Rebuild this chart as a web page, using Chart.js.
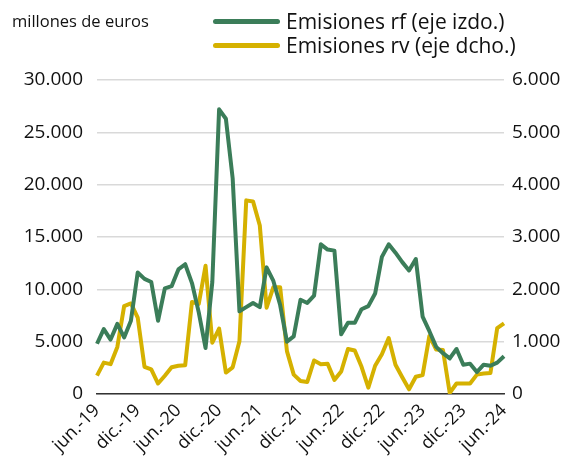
<!DOCTYPE html>
<html><head><meta charset="utf-8">
<script src="https://cdn.jsdelivr.net/npm/chart.js@4"></script>
<style>
html,body{margin:0;padding:0;background:#fff;}
#wrap{position:relative;width:587px;height:472px;font-family:"Open Sans",sans-serif;color:#111;}
canvas{position:absolute;left:0;top:0;}
.unit{position:absolute;left:12px;top:9px;font-size:16.5px;}
.leg{position:absolute;left:213px;font-size:21px;display:flex;align-items:center;white-space:nowrap;}
.leg span.l{display:inline-block;width:67px;height:5px;border-radius:2.5px;margin-right:6px;}
</style></head>
<body><div id="wrap">
<canvas id="c" width="587" height="472"></canvas>
<div class="unit">millones de euros</div>
<div class="leg" style="top:7px"><span class="l" style="background:#3b7d59"></span>Emisiones rf (eje izdo.)</div>
<div class="leg" style="top:31px"><span class="l" style="background:#d5b100"></span>Emisiones rv (eje dcho.)</div>
</div>
<script>
const monthNames = ["ene.","feb.","mar.","abr.","may.","jun.","jul.","ago.","sep.","oct.","nov.","dic."];
const labels = [];
for (let i = 0; i < 61; i++) { const k = 5 + i; labels.push(monthNames[k % 12] + "-" + (19 + Math.floor(k / 12))); }
const tickLabels = ["jun.-19","dic.-19","jun.-20","dic.-20","jun.-21","dic.-21","jun.-22","dic.-22","jun.-23","dic.-23","jun.-24"];
const rfValues = [4800,6200,5200,6700,5400,7000,11600,11000,10700,7000,10100,10300,11900,12400,10600,7800,4400,10700,27200,26300,20600,7900,8300,8700,8300,12100,10800,8500,5000,5500,9000,8700,9400,14300,13800,13700,5700,6800,6800,8100,8400,9600,13100,14300,13500,12600,11800,12900,7400,6000,4500,3900,3400,4300,2800,2900,2100,2800,2700,3000,3600];
const rvValues = [350,600,570,900,1680,1730,1460,520,470,200,350,510,540,550,1760,1720,2450,980,1250,410,510,1010,3700,3680,3220,1650,2040,2040,820,370,250,230,640,570,580,270,430,860,830,520,120,540,760,1070,560,320,90,330,360,1110,850,840,20,200,200,200,370,390,400,1260,1350];
const leftTicks = [0,5000,10000,15000,20000,25000,30000];
const rightTicks = [0,1000,2000,3000,4000,5000,6000];
const fmt = v => v.toLocaleString("de-DE");
const TXT = "#111";
new Chart(document.getElementById("c"), {
  type: "line",
  data: { labels: labels, datasets: [
    { label: "Emisiones rf (eje izdo.)", data: rfValues, yAxisID: "y", borderColor: "#3b7d59", borderWidth: 4, pointRadius: 0, tension: 0, borderJoinStyle: "round" },
    { label: "Emisiones rv (eje dcho.)", data: rvValues, yAxisID: "y1", borderColor: "#d5b100", borderWidth: 4, pointRadius: 0, tension: 0, borderJoinStyle: "round" }
  ]},
  options: {
    responsive: false, animation: false,
    layout: { padding: { top: 80, left: 0, right: 0, bottom: 0 } },
    plugins: { legend: { display: false }, tooltip: { enabled: false } },
    scales: {
      x: {
        grid: { display: false, drawTicks: false },
        border: { display: true, color: "#333", width: 1.5 },
        afterFit: s => { s.height = 78; },
        ticks: { autoSkip: false, maxRotation: 45, minRotation: 45, padding: 6, color: TXT,
          font: { family: "Open Sans", size: 18 },
          callback: function(v, i) { return i % 6 === 0 ? tickLabels[i / 6] : null; } }
      },
      y: {
        position: "left", min: 0, max: 30000,
        afterFit: s => { s.width = 97; },
        afterBuildTicks: s => { s.ticks = leftTicks.map(v => ({ value: v })); },
        grid: { color: "#d9d9d9", lineWidth: 1.5, drawTicks: false },
        border: { display: false },
        ticks: { padding: 14, color: TXT, font: { family: "Open Sans", size: 19 }, callback: v => fmt(v) }
      },
      y1: {
        position: "right", min: 0, max: 6000,
        afterFit: s => { s.width = 83; },
        afterBuildTicks: s => { s.ticks = rightTicks.map(v => ({ value: v })); },
        grid: { display: false, drawTicks: false },
        border: { display: false },
        ticks: { padding: 8, color: TXT, font: { family: "Open Sans", size: 19 }, callback: v => fmt(v) }
      }
    }
  }
});
</script>
</body></html>
